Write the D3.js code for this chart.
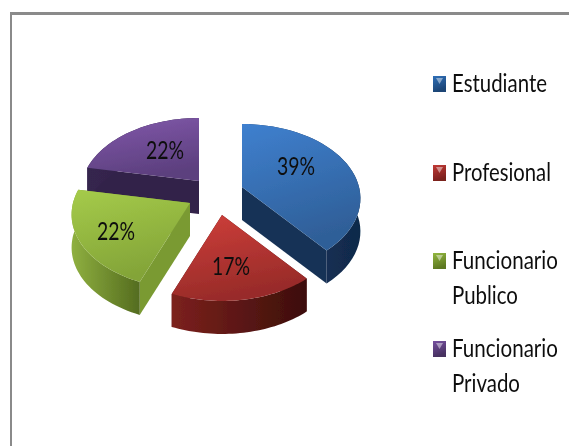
<!DOCTYPE html>
<html><head><meta charset="utf-8">
<script src="https://cdn.jsdelivr.net/npm/d3@7"></script>
<style>html,body{margin:0;padding:0;background:#fff;overflow:hidden}svg{display:block}</style>
</head><body>
<svg id="c" width="569" height="446"></svg>
<script>
const categories = ["Estudiante","Profesional","Funcionario Publico","Funcionario Privado"];
const values = [39,17,22,22];
const legendLines = [["Estudiante"],["Profesional"],["Funcionario","Publico"],["Funcionario","Privado"]];

// layout and style (separate from the data)
const apexes = [[242,187],[222,215],[190,203],[199,181]];
const labelPos = [[296,166],[231,266],[116,231],[165,150]];
const legendY = [92,181,269,357];
const lineWidths = {"Estudiante":95,"Profesional":99,"Funcionario":106,"Publico":66,"Privado":68};
const topCols = [["#3f80cf","#2f5f98"],["#cf3f3a","#982b29"],["#a5cb4a","#83a438"],["#8259ab","#5c3f7e"]];
const wallCols = [["#1d3e68","#10294a"],["#7c211d","#3c0e0b"],["#8fb040","#546c1f"],["#35254e","#2e2044"]];
const cutCols = ["#183356","#5a1513","#7a9a33","#33234a"];
const swatchCols = [["#2f6fb8","#1c4474"],["#c23a36","#7a201d"],["#93b83f","#5d7822"],["#7650a0","#46305f"]];
const rx=117, ry=72.7, persp=.154, depth=33;

const svg=d3.select("#c");
const defs=svg.append("defs");
defs.append("filter").attr("id","soft").attr("x","-5%").attr("y","-5%").attr("width","110%").attr("height","110%")
  .append("feGaussianBlur").attr("stdDeviation",.7);
defs.append("filter").attr("id","softT").attr("x","-5%").attr("y","-10%").attr("width","110%").attr("height","120%")
  .append("feGaussianBlur").attr("stdDeviation",.35);
function grad(id,cols,horizontal){
  const g=defs.append("linearGradient").attr("id",id).attr("x1",0).attr("y1",0)
    .attr("x2",horizontal?1:.3).attr("y2",horizontal?0:1);
  g.append("stop").attr("offset",0).attr("stop-color",cols[0]);
  g.append("stop").attr("offset",1).attr("stop-color",cols[1]);
}
values.forEach((_,i)=>{grad("t"+i,topCols[i],false);grad("w"+i,wallCols[i],true);grad("s"+i,swatchCols[i],false);});

// border
svg.append("rect").attr("x",10).attr("y",12).attr("width",559).attr("height",3).attr("fill","#8a8a8a");
svg.append("rect").attr("x",10).attr("y",12).attr("width",2).attr("height",434).attr("fill","#8a8a8a");

// pie
const arcs=d3.pie().sort(null)(values);
function proj(i,a,dz){
  const u=Math.sin(a),v=-Math.cos(a),s=1/(1-persp*v);
  return [apexes[i][0]+u*rx*s, apexes[i][1]+v*ry*s+dz];
}
const line=d3.line();
function arcPts(i,a0,a1,dz){return d3.range(0,41).map(k=>proj(i,a0+(a1-a0)*k/40,dz));}
const pie=svg.append("g").attr("filter","url(#soft)");
[3,0,2,1].forEach(i=>{
  const d=arcs[i],g=pie.append("g");
  const a=apexes[i];
  [d.startAngle,d.endAngle].forEach(t=>{
    const p=proj(i,t,0),q=proj(i,t,depth);
    g.append("path").attr("d",line([a,p,q,[a[0],a[1]+depth]])+"Z").attr("fill",cutCols[i]);
  });
  const top=arcPts(i,d.startAngle,d.endAngle,0),bot=arcPts(i,d.startAngle,d.endAngle,depth).reverse();
  g.append("path").attr("d",line(top.concat(bot))+"Z").attr("fill",`url(#w${i})`);
  g.append("path").attr("d",line([a].concat(top))+"Z").attr("fill",`url(#t${i})`);
});

// text squeezed horizontally to the narrow face of the reference
const txt=svg.append("g").attr("filter","url(#softT)").attr("font-family","Lato,'Open Sans',sans-serif").attr("fill","#111");
function fitted(str,x,y,width,anchorMid){
  const t=txt.append("text").attr("font-size",25).text(str);
  const w=t.node().getComputedTextLength();
  const sx=width/w;
  const x0=anchorMid?x-width/2:x;
  t.attr("transform",`translate(${x0},${y}) scale(${sx},1)`);
}
values.forEach((v,i)=>fitted(v+"%",labelPos[i][0],labelPos[i][1]+9,38,true));

// legend
categories.forEach((c,i)=>{
  const y=legendY[i];
  svg.append("rect").attr("x",433).attr("y",y-16).attr("width",13).attr("height",16).attr("fill",`url(#s${i})`).attr("filter","url(#softT)");
  svg.append("path").attr("d",line([[436,y-14],[443,y-14],[439.5,y-8]])+"Z").attr("fill","#fff").attr("opacity",.45);
  legendLines[i].forEach((t,j)=>fitted(t,452,y+j*35,lineWidths[t],false));
});
</script>
</body></html>
